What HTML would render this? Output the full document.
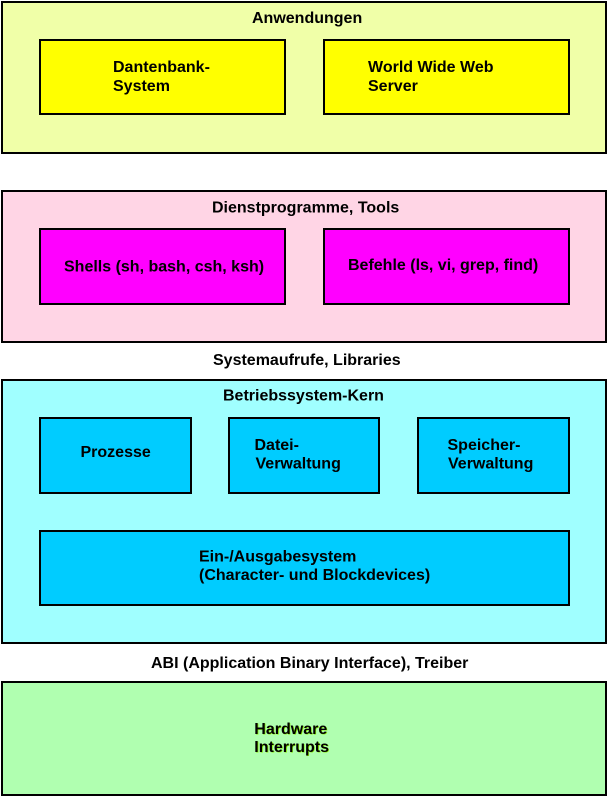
<!DOCTYPE html>
<html>
<head>
<meta charset="utf-8">
<style>
  html,body{margin:0;padding:0;background:#fff;}
  svg{display:block;}
  text{font-family:"Liberation Sans",Arial,sans-serif;font-weight:bold;font-size:16px;fill:#000;}
</style>
</head>
<body>
<svg width="607" height="796" viewBox="0 0 607 796" xmlns="http://www.w3.org/2000/svg">
  <!-- Anwendungen -->
  <rect x="2" y="2" width="604" height="151" fill="#F0FFA8" stroke="#000" stroke-width="2"/>
  <rect x="40" y="40" width="245" height="74" fill="#FFFF00" stroke="#000" stroke-width="2"/>
  <rect x="324" y="40" width="245" height="74" fill="#FFFF00" stroke="#000" stroke-width="2"/>
  <text x="252" y="23" font-size="16">Anwendungen</text>
  <text x="113" y="72" font-size="16">Dantenbank-</text>
  <text x="113" y="91" font-size="16">System</text>
  <text x="368" y="72" font-size="16">World Wide Web</text>
  <text x="368" y="91" font-size="16">Server</text>

  <!-- Dienstprogramme -->
  <rect x="2" y="191" width="604" height="151" fill="#FFD5E5" stroke="#000" stroke-width="2"/>
  <rect x="40" y="229" width="245" height="75" fill="#FF00FF" stroke="#000" stroke-width="2"/>
  <rect x="324" y="229" width="245" height="75" fill="#FF00FF" stroke="#000" stroke-width="2"/>
  <text x="212" y="212.5" font-size="16">Dienstprogramme, Tools</text>
  <text x="64" y="271.5" font-size="16">Shells (sh, bash, csh, ksh)</text>
  <text x="348" y="270" font-size="16">Befehle (ls, vi, grep, find)</text>

  <text x="213" y="365" font-size="16">Systemaufrufe, Libraries</text>

  <!-- Kern -->
  <rect x="2" y="380" width="604" height="263" fill="#A0FFFF" stroke="#000" stroke-width="2"/>
  <rect x="40" y="418" width="151" height="75" fill="#00CCFF" stroke="#000" stroke-width="2"/>
  <rect x="229" y="418" width="150" height="75" fill="#00CCFF" stroke="#000" stroke-width="2"/>
  <rect x="418" y="418" width="151" height="75" fill="#00CCFF" stroke="#000" stroke-width="2"/>
  <rect x="40" y="531" width="529" height="74" fill="#00CCFF" stroke="#000" stroke-width="2"/>
  <text x="223" y="400.5" font-size="16">Betriebssystem-Kern</text>
  <text x="80.5" y="457" font-size="16">Prozesse</text>
  <text x="254.5" y="450" font-size="16">Datei-</text>
  <text x="255.5" y="468.5" font-size="16">Verwaltung</text>
  <text x="447.5" y="450" font-size="16">Speicher-</text>
  <text x="448" y="468.5" font-size="16">Verwaltung</text>
  <text x="199" y="561.5" font-size="16">Ein-/Ausgabesystem</text>
  <text x="199" y="580" font-size="16">(Character- und Blockdevices)</text>

  <text x="151" y="668" font-size="16">ABI (Application Binary Interface), Treiber</text>

  <!-- Hardware -->
  <rect x="2" y="682" width="604" height="113" fill="#B0FFB0" stroke="#000" stroke-width="2"/>
  <text x="255" y="734.5" font-size="16" style="fill:#88EE00">Hardware</text>
  <text x="255" y="752.5" font-size="16" style="fill:#88EE00">Interrupts</text>
  <text x="254.3" y="734" font-size="16">Hardware</text>
  <text x="254.3" y="752" font-size="16">Interrupts</text>
</svg>
</body>
</html>
